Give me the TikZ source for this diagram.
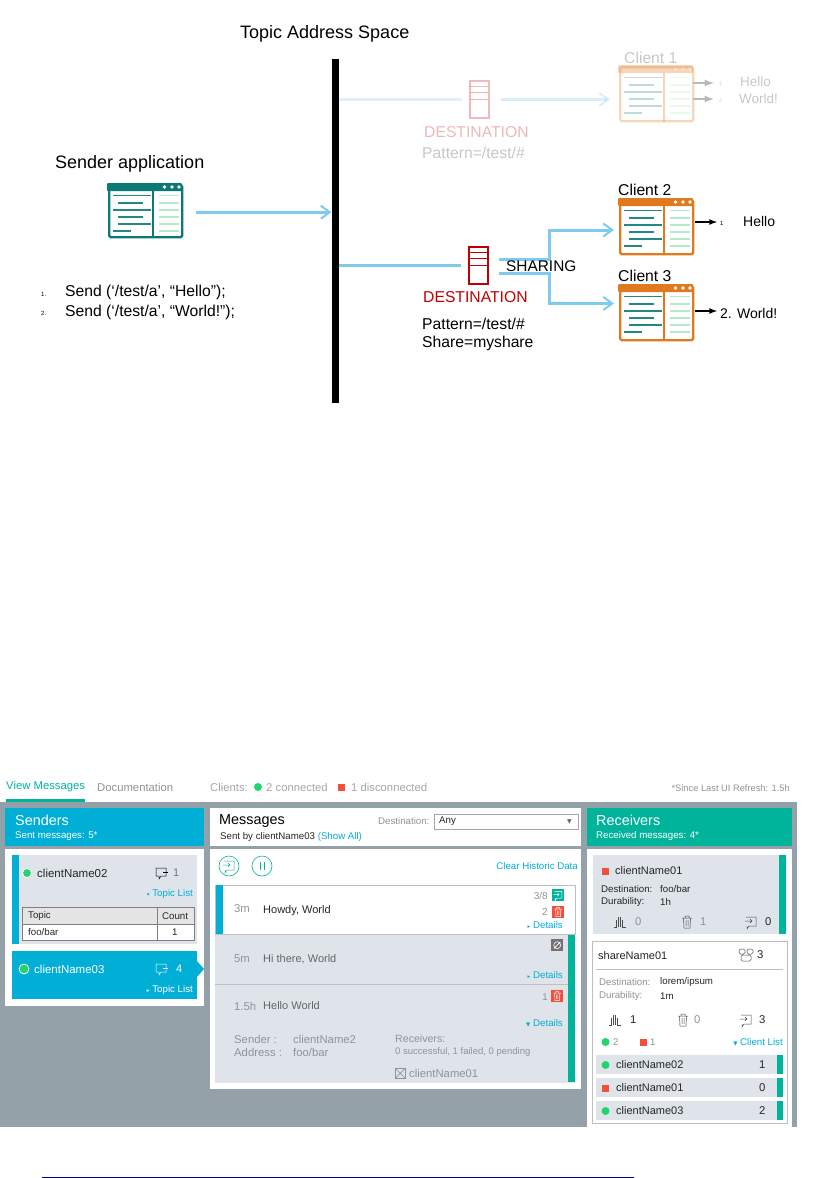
\documentclass[tikz,border=0pt]{standalone}
\usepackage{fontspec}
\setmainfont{Liberation Sans}
\newfontfamily\symfont{DejaVu Sans}
\usetikzlibrary{arrows.meta}
\definecolor{feedblue}{HTML}{7FCBF0}
\definecolor{sendblue}{HTML}{00AED6}
\definecolor{recvgreen}{HTML}{00B39B}
\definecolor{panelgray}{HTML}{94A1A9}
\definecolor{cardgray}{HTML}{DEE4EA}
\definecolor{okgreen}{HTML}{22D46C}
\definecolor{badred}{HTML}{F25038}
\definecolor{softgray}{HTML}{8E9499}
\definecolor{winteal}{HTML}{0B7A75}
\definecolor{winorange}{HTML}{E07A1F}
\definecolor{winmint}{HTML}{B5EBC8}
\definecolor{destred}{HTML}{C00000}
\definecolor{rulenavy}{HTML}{00008B}
\newcommand{\tri}[1]{{\symfont\fontsize{5.5}{5.5}\selectfont #1}\ }
\newcommand{\appwin}[6][54pt]{%
  \begin{scope}[shift={(#3,#4)},opacity=#6]
    \node[draw=#5, fill=white, line width=2.4pt, rounded corners=1.5pt, minimum width=73pt, minimum height=#1, anchor=north west, inner sep=0pt] (#2) at (1,1) {};
    \fill[#5, rounded corners=1pt] (0,0) rectangle (75,8);
    \coordinate (#2split) at (46,8);
    \draw[#5, line width=2.2pt] (#2split) -- (#2split |- #2.south);
    \fill[white] (57.5,4) circle (1.8) (65,4) circle (1.8) (72,4) circle (1.8);
    \draw[winteal!90, line width=1.6pt] (6,12.3) -- (44,12.3) (11,20) -- (36,20) (6,27) -- (44,27) (11,34) -- (36,34) (11,41) -- (44,41) (6,48) -- (24,48);
    \draw[winmint, line width=1.6pt] (52,12.3) -- (72,12.3) (52,20) -- (72,20) (52,27) -- (72,27) (52,34) -- (72,34) (52,41) -- (72,41) (52,48) -- (72,48);
  \end{scope}}
\newcommand{\destbox}[5]{%
  \begin{scope}[shift={(#2,#3)},opacity=#5]
    \node[draw=#4, line width=2pt, minimum width=19pt, minimum height=37pt, anchor=north west, inner sep=0pt] (#1) at (1,1) {};
    \draw[#4, line width=.8pt] (2,7) -- (20,7) (2,13) -- (20,13) (2,20) -- (20,20);
  \end{scope}}
\tikzset{
  chatic/.pic={\draw[pic actions] (-5,-5) -- (5,-5) -- (5,3) -- (0,3) -- (-2,6) -- (-2,3) -- (-5,3) -- cycle; \draw[pic actions] (2,-1) -- (7,-1);},
  replyic/.pic={\draw[pic actions] (-5,-5) -- (5,-5) -- (5,4) -- (-2,4) -- (-4,7) -- (-4,4) (-6,-1) -- (1,-1) (-1,-3) -- (1,-1) -- (-1,1);},
  trashic/.pic={\draw[pic actions] (-5,-4) -- (5,-4) (-2,-4) -- (-2,-6) -- (2,-6) -- (2,-4) (-3.5,-4) -- (-3,6) -- (3,6) -- (3.5,-4) (-1,-2) -- (-1,4) (1,-2) -- (1,4);},
  queueic/.pic={\draw[pic actions] (-6,5) -- (-4,5) -- (-4,-2) (-2,5) -- (-2,-5) (0,5) -- (0,-5) (2,5) -- (2,-2) (2,5) -- (6,5);},
  groupic/.pic={\draw[pic actions, rounded corners=1.5pt] (-7,-1) rectangle (-1,-6) (1,-1) rectangle (7,-6) (-5,6) rectangle (5,0);},
  pausic/.pic={\draw[pic actions] (-2,-4) -- (-2,4) (2,-4) -- (2,4);}
}
\begin{document}
\begin{tikzpicture}[
    x=1pt, y=-1pt,
    txt/.style={anchor=west, inner sep=0pt, font=\fontsize{15.7}{15.7}\selectfont},
    bigtxt/.style={txt, font=\fontsize{18}{18}\selectfont},
    faded/.style={txt, text=black!22},
    ui/.style={anchor=west, inner sep=0pt, font=\fontsize{9.7}{9.7}\selectfont, text=softgray},
    uibig/.style={ui, font=\fontsize{11.3}{11.3}\selectfont},
    uidark/.style={ui, text=black!85},
    uiname/.style={ui, text=black!85, font=\fontsize{11.5}{11.5}\selectfont},
    uilink/.style={ui, anchor=east, text=sendblue},
    uihead/.style={ui, font=\fontsize{14.4}{14.4}\selectfont, text=white},
    okdot/.style={circle, fill=okgreen, minimum size=8pt, inner sep=0pt},
    badsq/.style={rectangle, fill=badred, minimum size=7pt, inner sep=0pt},
    tabcell/.style={draw=gray, line width=.7pt, anchor=north west, inner sep=0pt},
    badge/.style={rectangle, minimum size=12pt, inner sep=0pt, anchor=north west},
    linic/.style={draw=black!70, line width=.5pt},
    pfeil/.style={-{Straight Barb[length=9pt,width=13pt,line width=2pt]}, feedblue, line width=3pt},
    strich/.style={feedblue, line width=3pt},
    pfeilb/.style={-latex, black, line width=1.6pt},
    pfeilg/.style={-latex, black!27, line width=2.2pt}
  ]
  \useasboundingbox (0,0) rectangle (832,1178);
  % upper diagram
  \node[bigtxt] (space) at (240,33.5) {Topic Address Space};
  \node[fill=black, minimum width=7.5pt, minimum height=344pt, inner sep=0pt, anchor=north west] (bar) at (331.5,59) {};
  \node[bigtxt] (senderlab) at (55,163.5) {Sender application};
  \appwin[52pt]{sender}{107}{183}{winteal}{1}
  \node[txt, font=\fontsize{6}{6}\selectfont] (num1) at (41,294) {1.};
  \node[txt, font=\fontsize{6}{6}\selectfont] (num2) at (41,313) {2.};
  \node[txt] (send1) at (65,292.5) {Send (‘/test/a’, “Hello”);};
  \node[txt] (send2) at (65,312.5) {Send (‘/test/a’, “World!”);};
  \draw[pfeil] ([xshift=13pt,yshift=-1pt]sender.east) -- ([yshift=-1pt]bar.west |- sender.east);

  % faded destination
  \destbox{destone}{468}{79}{destred!60}{.45}
  \node[faded, text=destred!28] (destlabone) at (424,132) {DESTINATION};
  \node[faded] (patone) at (422,153) {Pattern=/test/\#};
  \appwin{clientone}{618}{65}{winorange}{.3}
  \node[faded] (clientlabone) at (624,58) {Client 1};
  \draw[strich, opacity=.25] (bar.east |- destone.west) -- ([xshift=-7pt]destone.west);
  \draw[pfeil, opacity=.3] ([xshift=11pt]destone.east) -- ([xshift=-9pt]clientone.west |- destone.east);
  \coordinate (outa) at (693,83);
  \coordinate (outb) at (693,99);
  \node[faded, font=\fontsize{5}{5}\selectfont] (numa) at (719,84) {1};
  \node[faded, font=\fontsize{5}{5}\selectfont] (numb) at (719,101) {2};
  \node[faded, font=\fontsize{13.5}{13.5}\selectfont] (helloone) at (740,82) {Hello};
  \node[faded, font=\fontsize{13.5}{13.5}\selectfont] (worldone) at (739,99) {World!};
  \draw[pfeilg] (outa) -- ([xshift=-5pt]outa -| numa.west);
  \draw[pfeilg] (outb) -- ([xshift=-5pt]outb -| numb.west);

  % shared destination
  \destbox{desttwo}{467}{245}{destred}{1}
  \node[txt, text=destred] (destlabtwo) at (423,297) {DESTINATION};
  \node[txt] (pattwo) at (422,323.5) {Pattern=/test/\#};
  \node[txt] (sharetwo) at (422,343) {Share=myshare};
  \appwin{clienttwo}{618}{198}{winorange}{1}
  \appwin{clientthree}{618}{284}{winorange}{1}
  \draw[strich] (bar.east |- desttwo.west) -- ([xshift=-7pt]desttwo.west);
  \coordinate (shareup) at (499,259);
  \coordinate (sharedown) at (499,273.5);
  \coordinate (forkup) at (549,259);
  \coordinate (forkdown) at (549,273.5);
  \coordinate (inup) at (614,230);
  \coordinate (indown) at (614,303.5);
  \draw[pfeil] (shareup) -- (forkup) -- (forkup |- inup) -- (inup);
  \draw[pfeil] (sharedown) -- (forkdown) -- (forkdown |- indown) -- (indown);
  \node[txt, font=\fontsize{15.4}{15.4}\selectfont] (sharing) at (506,266) {SHARING};
  \node[txt] (clientlabtwo) at (618,190) {Client 2};
  \node[txt] (clientlabthree) at (618,276) {Client 3};
  \coordinate (outc) at (695,222);
  \coordinate (outd) at (695,311);
  \node[txt, font=\fontsize{6}{6}\selectfont] (numc) at (720,223) {1};
  \node[txt, font=\fontsize{14}{14}\selectfont] (hellotwo) at (743,221) {Hello};
  \node[txt, font=\fontsize{14}{14}\selectfont] (worldtwo) at (720,313) {2. World!};
  \draw[pfeilb] (outc) -- ([xshift=-3pt]outc -| numc.west);
  \draw[pfeilb] (outd) -- ([xshift=-3pt]outd -| worldtwo.west);

  % tabs
  \node[uibig, text=recvgreen] (tabview) at (6,787) {View Messages};
  \fill[recvgreen] (6,799) rectangle (85,802);
  \node[uibig] (tabdoc) at (97,787) {Documentation};
  \node[uibig, text=black!35] (tabcl) at (210,787) {Clients:};
  \node[okdot] (tabok) at (258,787) {};
  \node[uibig, text=black!35] (tabconn) at (266,787) {2 connected};
  \node[badsq] (tabbad) at (341,787) {};
  \node[uibig, text=black!35] (tabdisc) at (351,787) {1 disconnected};
  \node[ui, font=\fontsize{9.3}{9.3}\selectfont, anchor=east] (refresh) at (790,788) {*Since Last UI Refresh: 1.5h};

  % panels
  \fill[panelgray] (0,802) rectangle (797,1127);
  \fill[sendblue] (5,808) rectangle (204,846);
  \fill[white] (5,849) rectangle (204,1006);
  \fill[white] (210,808) rectangle (581,846);
  \fill[white] (210,849) rectangle (581,1089);
  \fill[recvgreen] (587,808) rectangle (792,846);
  \fill[white] (587,849) rectangle (792,1127);

  % senders
  \node[uihead] (sendhead) at (15,820) {Senders};
  \node[ui, text=white] (sendsub) at (15,836) {Sent messages: 5*};
  \fill[cardgray] (12,855) rectangle (197,944);
  \fill[sendblue] (12,855) rectangle (19,944);
  \node[okdot, draw=white, line width=.8pt, minimum size=9pt] (sdot1) at (27,873) {};
  \node[uiname] (sname1) at (37,873) {clientName02};
  \pic[linic, draw=black] at (161,873) {chatic};
  \node[uidark, font=\fontsize{11}{11}\selectfont, text=softgray!80!black] (scount1) at (173,873) {1};
  \node[uilink] (slist1) at (193,894) {\tri{▾}Topic List};
  \node[tabcell, fill=black!10, minimum width=135pt, minimum height=17pt] (tabtopic) at (22,907) {};
  \node[tabcell, fill=black!10, minimum width=37pt, minimum height=17pt] (tabcount) at (157,907) {};
  \node[tabcell, fill=white, minimum width=135pt, minimum height=16pt] (rowtopic) at (22,924) {};
  \node[tabcell, fill=white, minimum width=37pt, minimum height=16pt] (rowcount) at (157,924) {};
  \node[uidark] (ttopic) at (28,916) {Topic};
  \node[uidark] (tcount) at (162,916) {Count};
  \node[uidark] (tfoo) at (28,932) {foo/bar};
  \node[uidark] (tone) at (172,932) {1};
  \fill[sendblue] (12,951) rectangle (197,999);
  \fill[sendblue] (197,961) -- (204,969) -- (197,977) -- cycle;
  \node[okdot, draw=white, line width=.8pt, minimum size=10pt] (sdot2) at (24,969) {};
  \node[uiname, text=white] (sname2) at (34,969) {clientName03};
  \pic[linic, draw=white] at (161,969) {chatic};
  \node[ui, font=\fontsize{11}{11}\selectfont, text=white] (scount2) at (176,969) {4};
  \node[uilink, text=white] (slist2) at (193,990) {\tri{▸}Topic List};

  % messages
  \node[uihead, text=black] (msghead) at (219,821) {Messages};
  \node[uidark] (msgsub) at (220,837) {Sent by clientName03 \textcolor{sendblue}{(Show All)}};
  \node[ui] (destlab) at (378,821) {Destination:};
  \node[draw=black!35, line width=.7pt, minimum width=143.5pt, minimum height=15pt, inner sep=0pt, anchor=north west] (destsel) at (434,814) {};
  \node[uidark] (destany) at (439,821) {Any};
  \node[ui, font=\symfont\fontsize{6}{6}\selectfont, text=black!60] (destarr) at (567,822) {▼};
  \node[circle, draw=recvgreen, line width=.6pt, minimum size=20pt, inner sep=0pt] (btnreply) at (229,866) {};
  \node[circle, draw=recvgreen, line width=.6pt, minimum size=20pt, inner sep=0pt] (btnpause) at (262,866) {};
  \pic[linic, draw=recvgreen] at (229,866) {replyic};
  \pic[linic, draw=recvgreen] at (262,866) {pausic};
  \node[uilink] (clearh) at (578,866) {Clear Historic Data};

  \fill[white] (215,885) rectangle (575,934);
  \draw[black!25, line width=.7pt] (215,885) rectangle (575,934.5);
  \fill[sendblue] (216,885) rectangle (223,934);
  \fill[cardgray] (215,935) rectangle (575,1083);
  \draw[black!25, line width=.7pt] (215,934.5) -- (575,934.5) (215,984.5) -- (575,984.5);
  \fill[recvgreen] (568,935) rectangle (575,1082);
  \node[uibig] (age1) at (234,909) {3m};
  \node[uiname, font=\fontsize{11}{11}\selectfont] (msg1) at (263,910.5) {Howdy, World};
  \node[ui, anchor=east, font=\fontsize{10}{10}\selectfont] (cnt1) at (548,896) {3/8};
  \node[badge, fill=recvgreen] (bdg1) at (552,889) {};
  \pic[linic, draw=white, scale=.75] at (bdg1.center) {replyic};
  \node[ui, anchor=east, font=\fontsize{10}{10}\selectfont] (cnt2) at (548,912) {2};
  \node[badge, fill=badred] (bdg2) at (552,906) {};
  \pic[linic, draw=white, scale=.75] at (bdg2.center) {trashic};
  \node[uilink] (det1) at (563,925) {\tri{▸}Details};
  \node[uibig] (age2) at (234,959) {5m};
  \node[uiname, font=\fontsize{11}{11}\selectfont, text=black!60] (msg2) at (263,959.5) {Hi there, World};
  \node[badge, fill=black!55] (bdg3) at (551,939) {};
  \draw[white, line width=.6pt] (bdg3.center) circle (3.5) ([xshift=3pt,yshift=3pt]bdg3.south west) -- ([xshift=-3pt,yshift=-3pt]bdg3.north east);
  \node[uilink] (det2) at (563,975) {\tri{▸}Details};
  \node[uibig] (age3) at (234,1006) {1.5h};
  \node[uiname, font=\fontsize{11}{11}\selectfont, text=black!60] (msg3) at (263,1006) {Hello World};
  \node[ui, anchor=east] (cnt3) at (548,997) {1};
  \node[badge, fill=badred] (bdg4) at (551,990) {};
  \pic[linic, draw=white, scale=.75] at (bdg4.center) {trashic};
  \node[uilink] (det3) at (563,1023) {\tri{▼}Details};
  \node[uibig] (senderk) at (234,1039) {Sender :};
  \node[uibig] (senderv) at (293,1039) {clientName2};
  \node[uibig] (addrk) at (234,1052) {Address :};
  \node[uibig] (addrv) at (293,1052) {foo/bar};
  \node[ui, font=\fontsize{10.6}{10.6}\selectfont] (recvk) at (395,1039) {Receivers:};
  \node[ui, font=\fontsize{9.5}{9.5}\selectfont] (recvv) at (395,1052) {0 successful, 1 failed, 0 pending};
  \node[draw=softgray, line width=.6pt, minimum size=10pt, inner sep=0pt, anchor=north west] (xbox) at (395,1068) {};
  \draw[softgray, line width=.6pt] (xbox.north west) -- (xbox.south east) (xbox.north east) -- (xbox.south west);
  \node[uibig] (xname) at (409,1073) {clientName01};

  % receivers
  \node[uihead] (recvhead) at (596,820) {Receivers};
  \node[ui, text=white] (recvsub) at (596,836) {Received messages: 4*};
  \fill[cardgray] (593,855) rectangle (786,934);
  \fill[recvgreen] (779,855) rectangle (786,934);
  \node[badsq] (rsq1) at (605.5,871) {};
  \node[uiname, font=\fontsize{11}{11}\selectfont] (rname1) at (615,871) {clientName01};
  \node[uidark] (rdest1) at (601,889) {Destination:};
  \node[uidark] (rfoo) at (660,889) {foo/bar};
  \node[uidark] (rdur1) at (601,902) {Durability:};
  \node[uidark] (r1h) at (660,902) {1h};
  \pic[linic] at (620,922) {queueic};
  \node[uibig] (rq1) at (635,922) {0};
  \pic[linic] at (687,922) {trashic};
  \node[uibig] (rt1) at (700,922) {1};
  \pic[linic] at (751,922) {replyic};
  \node[uibig, text=black!85] (rr1) at (765,922) {0};

  \node[draw=black!25, line width=.7pt, minimum width=195pt, minimum height=182pt, inner sep=0pt, anchor=north west] (sharebox) at (592,941) {};
  \node[uiname, font=\fontsize{11}{11}\selectfont] (rshare) at (598,956) {shareName01};
  \pic[linic] at (746,955) {groupic};
  \node[uibig, text=black!85] (rgroup) at (757,955) {3};
  \draw[black!25, line width=.7pt] (596,969) -- (783,969);
  \node[ui] (rdest2) at (599,982) {Destination:};
  \node[uidark] (rlorem) at (660,982) {lorem/ipsum};
  \node[ui] (rdur2) at (599,996) {Durability:};
  \node[uidark] (r1m) at (660,996) {1m};
  \pic[linic] at (615,1020) {queueic};
  \node[uibig, text=black!85] (rq2) at (630,1020) {1};
  \pic[linic] at (683,1020) {trashic};
  \node[uibig] (rt2) at (694,1020) {0};
  \pic[linic] at (746,1020) {replyic};
  \node[uibig, text=black!85] (rr2) at (759,1020) {3};
  \node[okdot] (rdot) at (605.5,1042) {};
  \node[ui] (rokn) at (613,1042) {2};
  \node[badsq] (rsq2) at (643.5,1042) {};
  \node[ui] (rbadn) at (650,1042) {1};
  \node[uilink] (rlist) at (783,1042) {\tri{▼}Client List};

  \fill[cardgray] (596,1055) rectangle (783,1074);
  \fill[cardgray] (596,1078) rectangle (783,1097);
  \fill[cardgray] (596,1101) rectangle (783,1120);
  \fill[recvgreen] (777,1055) rectangle (783,1074);
  \fill[recvgreen] (777,1078) rectangle (783,1097);
  \fill[recvgreen] (777,1101) rectangle (783,1120);
  \node[okdot] (cdot1) at (605.5,1065) {};
  \node[uiname, font=\fontsize{11}{11}\selectfont] (cname1) at (616,1065) {clientName02};
  \node[uibig, text=black!85] (cnum1) at (759,1065) {1};
  \node[badsq] (csq) at (605.5,1088) {};
  \node[uiname, font=\fontsize{11}{11}\selectfont] (cname2) at (616,1088) {clientName01};
  \node[uibig, text=black!85] (cnum2) at (759,1088) {0};
  \node[okdot] (cdot2) at (605.5,1111) {};
  \node[uiname, font=\fontsize{11}{11}\selectfont] (cname3) at (616,1111) {clientName03};
  \node[uibig, text=black!85] (cnum3) at (759,1111) {2};

  % footnote rule
  \draw[rulenavy, line width=.8pt] (42,1177) -- (634,1177);
\end{tikzpicture}
\end{document}
